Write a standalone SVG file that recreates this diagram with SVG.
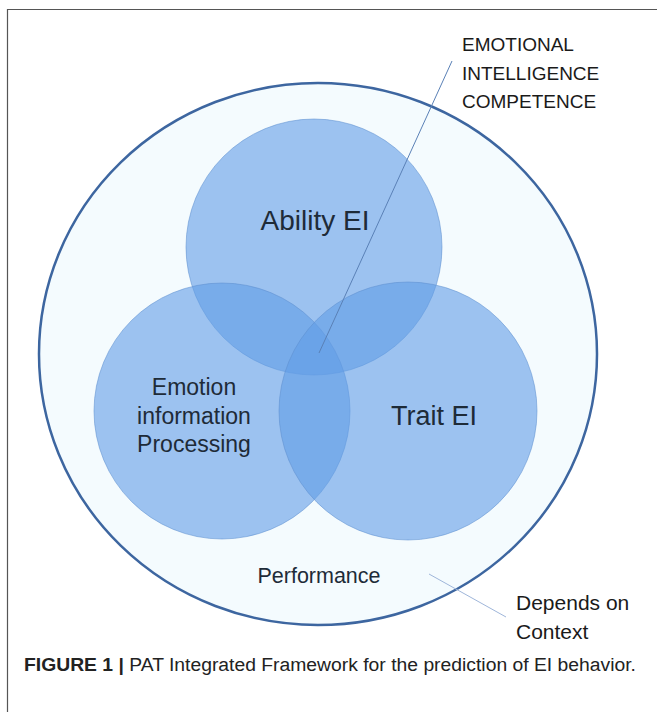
<svg xmlns="http://www.w3.org/2000/svg" width="657" height="712" viewBox="0 0 657 712">
<style>
.lbl{font-family:"Liberation Sans","Open Sans",sans-serif;fill:#1e2b38}
.note{font-family:"Liberation Sans","Open Sans",sans-serif;fill:#1a1a1a}
.venn{fill:#619de6;fill-opacity:0.6;stroke:#5f8fcf;stroke-opacity:0.55;stroke-width:1}
.lead{fill:none;stroke-width:1}
</style>
<rect width="657" height="712" fill="#ffffff"/>
<path d="M7.5,712 V9.5 H657" fill="none" stroke="#555555" stroke-width="1.2"/>
<g id="performance">
<ellipse cx="318" cy="354" rx="279" ry="271" fill="#f4fbfe" stroke="#3d66a0" stroke-width="2.5"/>
<text class="lbl" x="319" y="583" font-size="21.5" text-anchor="middle">Performance</text>
</g>
<g id="ability-ei">
<circle class="venn" cx="314" cy="247" r="128"/>
</g>
<g id="emotion-processing">
<circle class="venn" cx="222" cy="411" r="128"/>
</g>
<g id="trait-ei">
<circle class="venn" cx="408" cy="411" r="129"/>
</g>
<g id="labels">
<text class="lbl" x="315" y="230" font-size="28" text-anchor="middle">Ability EI</text>
<text class="lbl" x="434" y="425" font-size="27" text-anchor="middle">Trait EI</text>
<text class="lbl" font-size="23" text-anchor="middle"><tspan x="194" y="395">Emotion</tspan><tspan x="194" y="424">information</tspan><tspan x="194" y="452">Processing</tspan></text>
</g>
<g id="connectors">
<line class="lead" x1="452" y1="61" x2="319" y2="353" stroke="#5a80b6"/>
<line class="lead" x1="429" y1="574" x2="506" y2="617" stroke="#9fb6da"/>
</g>
<g id="eic-note">
<text class="note" font-size="19"><tspan x="462" y="51">EMOTIONAL</tspan><tspan x="462" y="80">INTELLIGENCE</tspan><tspan x="462" y="108">COMPETENCE</tspan></text>
</g>
<g id="context-note">
<text class="note" font-size="21"><tspan x="516" y="610">Depends on</tspan><tspan x="516" y="639">Context</tspan></text>
</g>
<g id="caption">
<text x="24" y="671" font-size="18" font-family="'Liberation Sans',Arial,sans-serif" fill="#222222" textLength="612" lengthAdjust="spacingAndGlyphs"><tspan font-weight="bold">FIGURE 1 |</tspan> PAT Integrated Framework for the prediction of EI behavior.</text>
</g>
</svg>
